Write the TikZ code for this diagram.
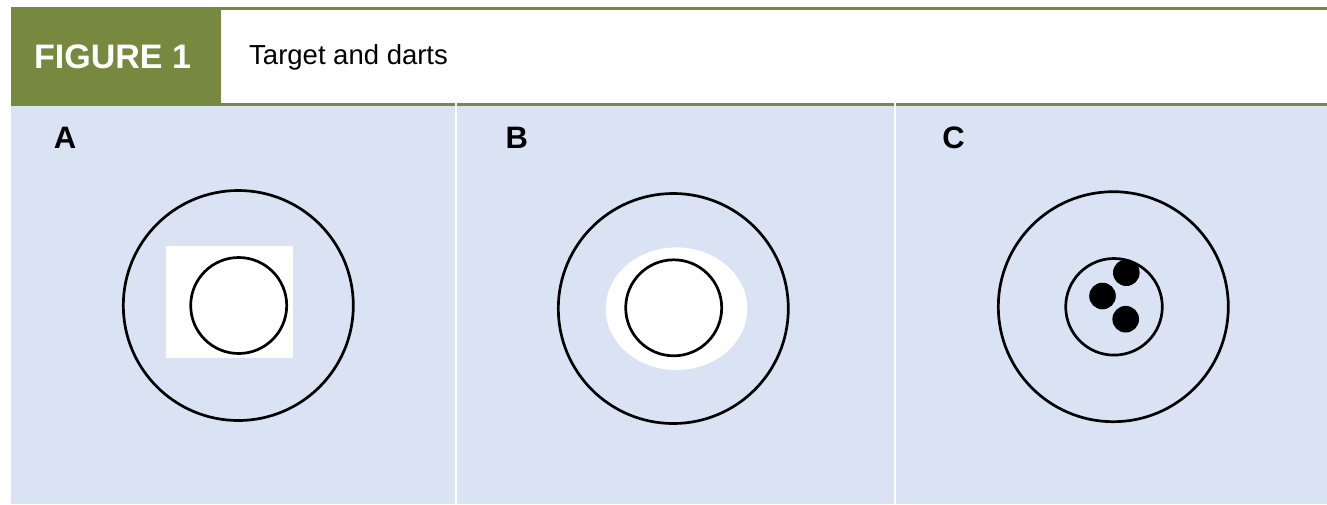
\documentclass[tikz,border=0pt]{standalone}
\usepackage{fontspec}
\setmainfont{Liberation Sans}
\definecolor{figgreen}{RGB}{118,137,63}
\definecolor{panelblue}{RGB}{218,227,243}
\begin{document}
\begin{tikzpicture}[x=1pt,y=-1pt,
  panel/.style={fill=panelblue},
  ring/.style={draw=black,line width=2.7pt},
  dart/.style={fill=black},
  paneltitle/.style={anchor=base,inner sep=0pt,font=\fontsize{31}{33}\selectfont\bfseries},
  greenrule/.style={draw=figgreen,line width=3pt}]
\useasboundingbox (0,0) rectangle (1327,504);
% header
\fill[figgreen] (11,7) rectangle (221,106);
\draw[greenrule] (221,8.3) -- (1327,8.3);
\node[anchor=base west,inner sep=0pt,text=white,font=\fontsize{34}{36}\selectfont\bfseries] (fig) at (34,68.3) {FIGURE 1};
\node[anchor=base west,inner sep=0pt,font=\fontsize{27.5}{30}\selectfont] (title) at (249,64.3) {Target and darts};
% panels
\fill[panel] (11,106) rectangle (454.5,504);
\fill[panel] (457,106) rectangle (893.5,504);
\fill[panel] (896,106) rectangle (1327,504);
\draw[greenrule] (11,104.3) -- (454.5,104.3);
\draw[greenrule] (457,104.3) -- (893.5,104.3);
\draw[greenrule] (896,104.3) -- (1327,104.3);
% labels
\node[paneltitle] (la) at (65,148) {A};
\node[paneltitle] (lb) at (516.7,148) {B};
\node[paneltitle] (lc) at (953.5,148) {C};
% target A
\fill[white] (166,246) rectangle (293.3,357.7);
\draw[ring] (238.3,305.5) circle (115);
\draw[ring] (238.7,305.5) circle (48);
% target B
\fill[white] (676.5,308.7) ellipse [x radius=70.8, y radius=61.3];
\draw[ring] (673.3,308.5) circle (115);
\draw[ring] (673.7,307.8) circle (48);
% target C
\draw[ring] (1113.3,306.7) circle (115);
\draw[ring] (1114,306.8) circle (48.3);
\fill[dart] (1126.3,272.7) circle (13.3);
\fill[dart] (1102.5,296) circle (13.3);
\fill[dart] (1125.7,319.2) circle (13.3);
\end{tikzpicture}
\end{document}
